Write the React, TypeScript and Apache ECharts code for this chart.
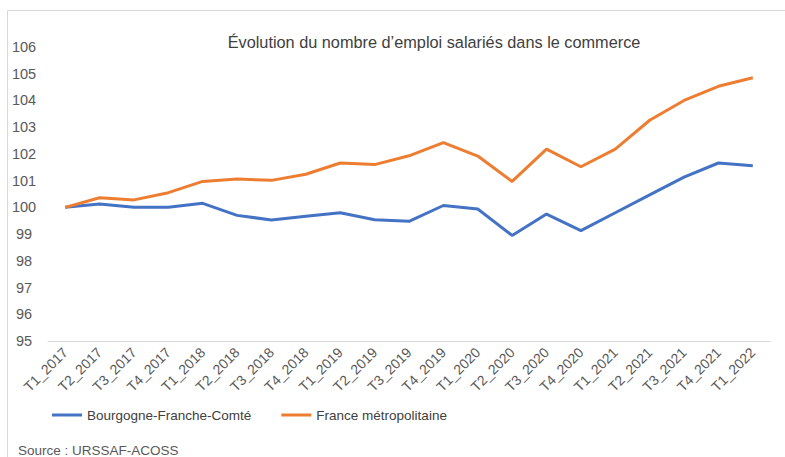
import React, { useEffect, useRef } from "react";
import * as echarts from "echarts";

const categories = [
  "T1_2017", "T2_2017", "T3_2017", "T4_2017",
  "T1_2018", "T2_2018", "T3_2018", "T4_2018",
  "T1_2019", "T2_2019", "T3_2019", "T4_2019",
  "T1_2020", "T2_2020", "T3_2020", "T4_2020",
  "T1_2021", "T2_2021", "T3_2021", "T4_2021",
  "T1_2022",
];

const bourgogne = [
  100.0, 100.13, 100.0, 100.0,
  100.15, 99.7, 99.53, 99.67,
  99.8, 99.54, 99.48, 100.07,
  99.94, 98.95, 99.75, 99.13,
  99.8, 100.47, 101.13, 101.66,
  101.56,
];

const france = [
  100.0, 100.36, 100.28, 100.55,
  100.97, 101.06, 101.01, 101.24,
  101.66, 101.6, 101.93, 102.42,
  101.92, 100.97, 102.18, 101.52,
  102.18, 103.26, 104.0, 104.53,
  104.85,
];

const seriesNames = ["Bourgogne-Franche-Comté", "France métropolitaine"];
const title = "Évolution du nombre d’emploi salariés dans le commerce";
const source = "Source : URSSAF-ACOSS";

const FONT = "'Liberation Sans', Arial, sans-serif";

export default function App() {
  const ref = useRef<HTMLDivElement>(null);

  useEffect(() => {
    if (!ref.current) return;
    const chart = echarts.init(ref.current, null, { renderer: "svg" });
    chart.setOption({
      animation: false,
      backgroundColor: "#ffffff",
      textStyle: { fontFamily: FONT },
      title: {
        text: title,
        left: 429,
        top: 29,
        textAlign: "center",
        textStyle: {
          fontFamily: FONT,
          fontSize: 16.3,
          fontWeight: "normal",
          color: "#404040",
        },
      },
      grid: { left: 48, right: 15, top: 47, bottom: 116, containLabel: false },
      legend: {
        left: 47,
        top: 403,
        itemWidth: 30,
        itemHeight: 3,
        itemGap: 30,
        icon: "rect",
        textStyle: { fontFamily: FONT, fontSize: 13.5, color: "#404040" },
        data: seriesNames,
      },
      xAxis: {
        type: "category",
        data: categories,
        boundaryGap: true,
        axisLine: { show: true, lineStyle: { color: "#d9d9d9", width: 1 } },
        axisTick: { show: false },
        axisLabel: {
          rotate: 45,
          interval: 0,
          margin: 9,
          fontFamily: FONT,
          fontSize: 14,
          color: "#595959",
        },
      },
      yAxis: {
        type: "value",
        min: 95,
        max: 106,
        interval: 1,
        splitLine: { show: false },
        axisLine: { show: false },
        axisTick: { show: false },
        axisLabel: {
          margin: 24,
          align: "center",
          fontFamily: FONT,
          fontSize: 14.5,
          color: "#595959",
        },
      },
      series: [
        {
          name: seriesNames[0],
          type: "line",
          data: bourgogne,
          showSymbol: false,
          symbol: "none",
          itemStyle: { color: "#4472C4" },
          lineStyle: { color: "#4472C4", width: 3 },
        },
        {
          name: seriesNames[1],
          type: "line",
          data: france,
          showSymbol: false,
          symbol: "none",
          itemStyle: { color: "#ED7D31" },
          lineStyle: { color: "#ED7D31", width: 3 },
        },
      ],
      graphic: [
        {
          type: "rect",
          shape: { x: 7.5, y: 10.5, width: 800, height: 470 },
          style: { fill: "none", stroke: "#d9d9d9", lineWidth: 1 },
          silent: true,
          z: -1,
        },
        {
          type: "text",
          left: 18,
          top: 443,
          style: {
            text: source,
            fontFamily: FONT,
            fontSize: 13.5,
            fill: "#595959",
          },
        },
      ],
    });
    return () => chart.dispose();
  }, []);

  return (
    <div
      ref={ref}
      style={{ position: "fixed", left: 0, top: 0, width: 785, height: 457 }}
    />
  );
}
